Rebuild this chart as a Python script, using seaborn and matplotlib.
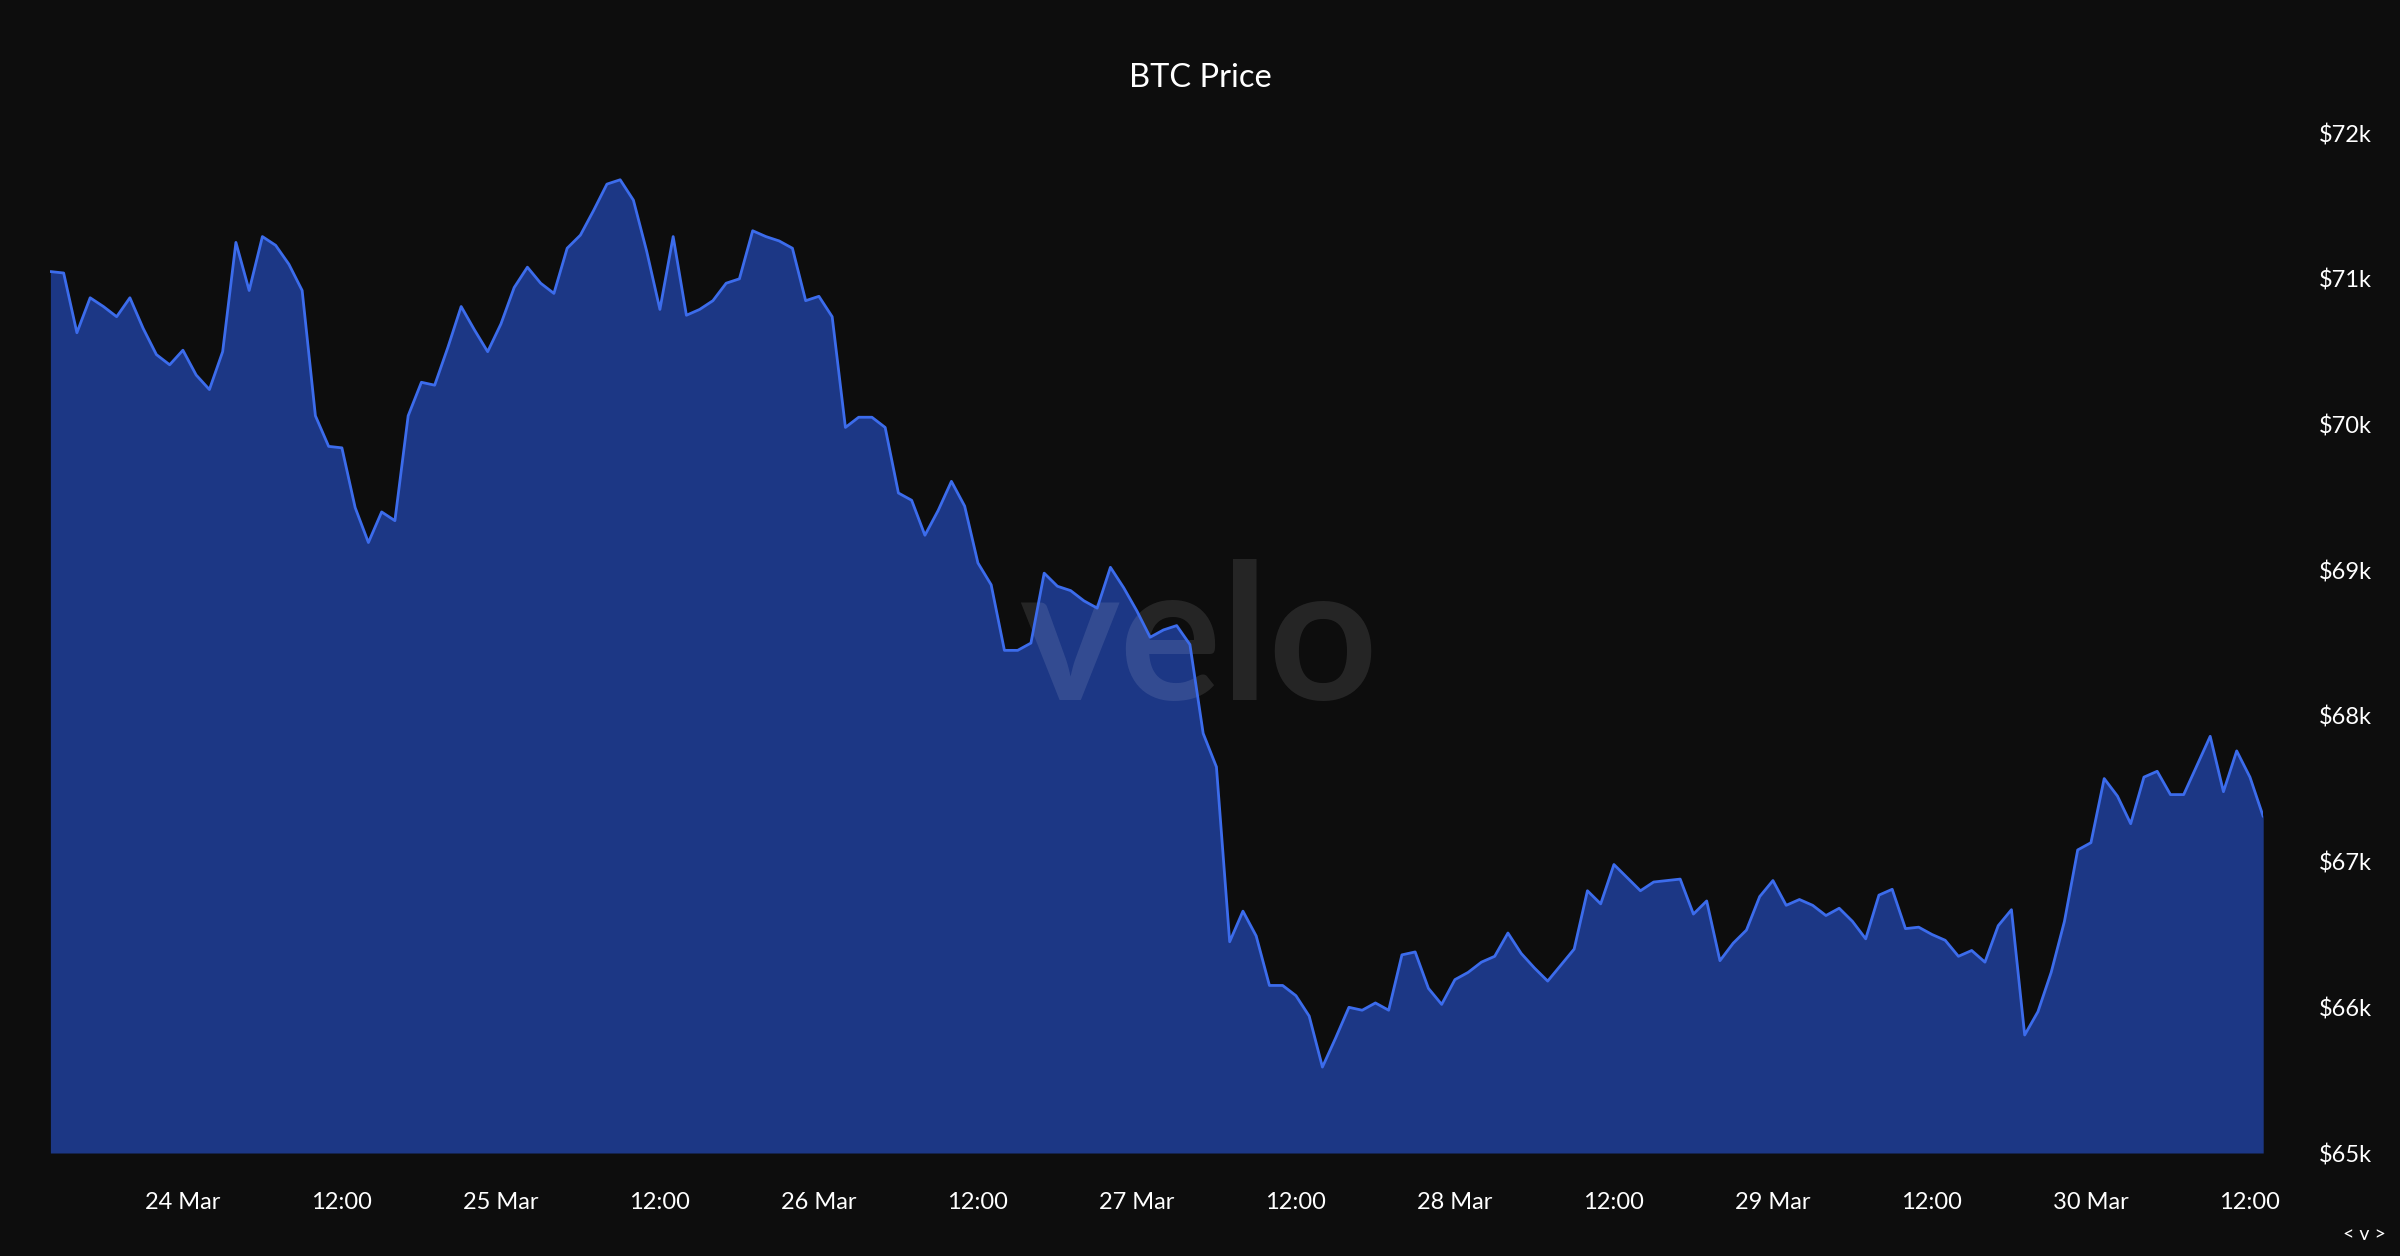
import numpy as np
import pandas as pd
import seaborn as sns
import matplotlib
matplotlib.use("Agg")
import matplotlib.pyplot as plt
import matplotlib.dates as mdates
from matplotlib.ticker import FuncFormatter

# hourly BTC price in $k, starting 23 Mar 14:00
start = "2024-03-23 14:00"
price_k = [
    71.05, 71.04, 70.63, 70.87, 70.81, 70.74, 70.87, 70.66, 70.48, 70.41,
    70.51, 70.34, 70.24, 70.50, 71.25, 70.92, 71.29, 71.23, 71.10, 70.92,
    70.06, 69.85, 69.84, 69.43, 69.19, 69.40, 69.34, 70.06, 70.29, 70.27,
    70.53, 70.81, 70.65, 70.50, 70.69, 70.94, 71.08, 70.97, 70.90, 71.21,
    71.30, 71.47, 71.65, 71.68, 71.54, 71.19, 70.79, 71.29, 70.75, 70.79,
    70.85, 70.97, 71.00, 71.33, 71.29, 71.26, 71.21, 70.85, 70.88, 70.74,
    69.98, 70.05, 70.05, 69.98, 69.53, 69.48, 69.24, 69.41, 69.61, 69.44,
    69.05, 68.90, 68.45, 68.45, 68.50, 68.98, 68.89, 68.86, 68.79, 68.74,
    69.02, 68.88, 68.72, 68.54, 68.59, 68.62, 68.49, 67.88, 67.65, 66.45,
    66.66, 66.49, 66.15, 66.15, 66.08, 65.94, 65.59, 65.79, 66.00, 65.98,
    66.03, 65.98, 66.36, 66.38, 66.13, 66.02, 66.19, 66.24, 66.31, 66.35,
    66.51, 66.37, 66.27, 66.18, 66.29, 66.40, 66.80, 66.71, 66.98, 66.89,
    66.80, 66.86, 66.87, 66.88, 66.64, 66.73, 66.32, 66.44, 66.53, 66.76,
    66.87, 66.70, 66.74, 66.70, 66.63, 66.68, 66.59, 66.47, 66.77, 66.81,
    66.54, 66.55, 66.50, 66.46, 66.35, 66.39, 66.31, 66.56, 66.67, 65.81,
    65.97, 66.24, 66.59, 67.08, 67.13, 67.57, 67.45, 67.26, 67.58, 67.62,
    67.46, 67.46, 67.66, 67.86, 67.48, 67.76, 67.58, 67.31,
]
y_ticks_k = [65, 66, 67, 68, 69, 70, 71, 72]

times = pd.date_range(start, periods=len(price_k), freq="h")
df = pd.DataFrame({"time": times, "price": price_k})

bg = "#0d0d0d"
fill_col = "#1c3785"
line_col = "#3c6cec"

sns.set_style("dark", {"axes.facecolor": bg, "figure.facecolor": bg})
plt.rcParams['font.family'] = ['Lato', 'DejaVu Sans']

fig = plt.figure(figsize=(24, 12.56), dpi=100, facecolor=bg)
ax = fig.add_axes([0.021, 0.082, 0.922, 0.812])
ax.set_facecolor(bg)

ax.fill_between(df["time"], df["price"], y_ticks_k[0], color=fill_col, lw=0, zorder=1)
ax.text(0.4995, 0.486, "velo", transform=fig.transFigure, ha="center", va="center",
        fontsize=137, fontweight="bold", color="white", alpha=0.1, zorder=2)
sns.lineplot(data=df, x="time", y="price", ax=ax, color=line_col, lw=2, zorder=3)

ax.set_xlim(times[0], times[-1])
ax.set_ylim(y_ticks_k[0], y_ticks_k[-1])
ax.set_xlabel("")
ax.set_ylabel("")
for s in ax.spines.values():
    s.set_visible(False)
ax.grid(False)

ax.yaxis.tick_right()
ax.set_yticks(y_ticks_k)
ax.yaxis.set_major_formatter(FuncFormatter(lambda v, p: f"${int(round(v))}k"))
ax.xaxis.set_major_locator(mdates.HourLocator(byhour=[0, 12]))
ax.xaxis.set_major_formatter(FuncFormatter(
    lambda v, p: mdates.num2date(v).strftime("%-d %b") if mdates.num2date(v).hour == 0 else "12:00"))
ax.tick_params(axis="y", length=0, pad=40, labelsize=17, labelcolor="white")
ax.tick_params(axis="x", length=0, pad=28, labelsize=17, labelcolor="white")

fig.text(0.5, 0.938, "BTC Price", ha="center", va="center", fontsize=23.5, color="white")
fig.text(0.985, 0.017, "< v >", ha="center", va="center", fontsize=14, color="white")

fig.savefig("out.png", dpi=100, facecolor=bg)
